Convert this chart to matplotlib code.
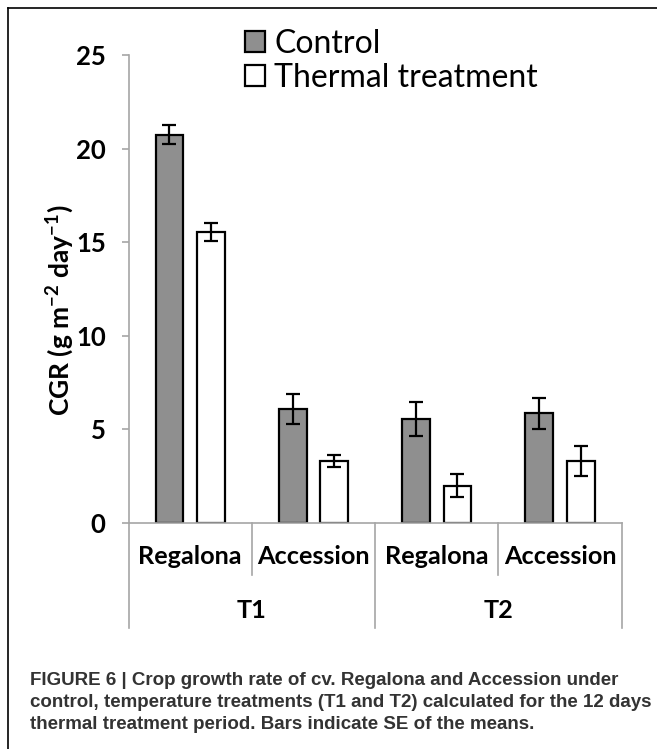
import matplotlib
matplotlib.use('Agg')
import matplotlib.pyplot as plt
import matplotlib.transforms as mtransforms
from matplotlib.patches import Patch
from matplotlib.lines import Line2D
import numpy as np

# crop growth rate, g m-2 day-1
cultivars = ['Regalona', 'Accession', 'Regalona', 'Accession']
treatments = ['T1', 'T2']
control = [20.75, 6.1, 5.55, 5.85]
control_se = [0.53, 0.8, 0.9, 0.82]
thermal = [15.55, 3.33, 2.0, 3.33]
thermal_se = [0.5, 0.32, 0.62, 0.8]
series_names = ['Control', 'Thermal treatment']
yticks = [0, 5, 10, 15, 20, 25]

caption = ['FIGURE 6 | Crop growth rate of cv. Regalona and Accession under',
           'control, temperature treatments (T1 and T2) calculated for the 12 days',
           'thermal treatment period. Bars indicate SE of the means.']

plt.rcParams['font.family'] = ['Lato', 'DejaVu Sans']
plt.rcParams['mathtext.fontset'] = 'custom'
plt.rcParams['mathtext.rm'] = 'Lato:bold'
plt.rcParams['mathtext.bf'] = 'Lato:bold'
plt.rcParams['mathtext.default'] = 'bf'

W, H = 657, 749
fig = plt.figure(figsize=(W / 100, H / 100), dpi=100)
ax = fig.add_axes([128.5 / W, 1 - 523 / H, (621.7 - 128.5) / W, (523 - 55) / H])

axis_grey = '#a6a6a6'
x = np.arange(len(cultivars))
w = 0.225
ekw = dict(ecolor='black', elinewidth=1.6, capsize=5.2, capthick=1.6)
ax.bar(x - 0.168, control, w, color='#8f8f8f', edgecolor='black', linewidth=1.6,
       yerr=control_se, error_kw=ekw)
ax.bar(x + 0.168, thermal, w, color='white', edgecolor='black', linewidth=1.6,
       yerr=thermal_se, error_kw=ekw)

ax.set_xlim(-0.5, 3.5)
ax.set_ylim(0, 25)
ax.set_yticks(yticks)
ax.set_xticks([])
for s in ['top', 'right']:
    ax.spines[s].set_visible(False)
for s in ['left', 'bottom']:
    ax.spines[s].set_color(axis_grey)
    ax.spines[s].set_linewidth(1.2)
ax.tick_params(axis='y', length=5.4, width=1.2, color=axis_grey, pad=11, labelsize=18.5)
for lbl in ax.get_yticklabels():
    lbl.set_fontweight('bold')

# two-level category axis
trans = mtransforms.blended_transform_factory(ax.transData, ax.transAxes)
for xs in [0.5, 2.5]:
    ax.plot([xs, xs], [0, -0.111], transform=trans, clip_on=False, color=axis_grey, lw=1.2)
for xs in [-0.5, 1.5, 3.5]:
    ax.plot([xs, xs], [0, -0.224], transform=trans, clip_on=False, color=axis_grey, lw=1.2)
for i, name in enumerate(cultivars):
    ax.text(i, -0.0726, name, transform=trans, ha='center', va='center',
            fontsize=18.2, fontweight='bold')
for j, name in enumerate(treatments):
    ax.text(2 * j + 0.5, -0.188, name, transform=trans, ha='center', va='center',
            fontsize=18.2, fontweight='bold')

fig.text(60 / W, 1 - 310 / H, r'CGR (g m$^{-2}$ day$^{-1}$)', rotation=90,
         ha='center', va='center', fontsize=19, fontweight='bold')

handles = [Patch(facecolor='#8f8f8f', edgecolor='black', lw=1.6),
           Patch(facecolor='white', edgecolor='black', lw=1.6)]
fig.legend(handles, series_names, loc='upper left', bbox_to_anchor=(245 / W, 1 - 29 / H),
           frameon=False, fontsize=23, handlelength=0.62, handleheight=0.62,
           handletextpad=0.3, labelspacing=0.12, borderpad=0, borderaxespad=0)

# frame lines
fig.add_artist(Line2D([8 / W, 1], [1 - 7.5 / H, 1 - 7.5 / H], color='black', lw=1.2,
                      transform=fig.transFigure))
fig.add_artist(Line2D([8 / W, 8 / W], [0, 1 - 7.5 / H], color='black', lw=1.2,
                      transform=fig.transFigure))

for k, line in enumerate(caption):
    fig.text(30 / W, 1 - (680.7 + 22 * k) / H, line, ha='left', va='center',
             fontsize=13.5, fontweight='bold', color='#333333',
             family=['Liberation Sans Narrow', 'Liberation Sans'])

fig.savefig('out.png', dpi=100)
